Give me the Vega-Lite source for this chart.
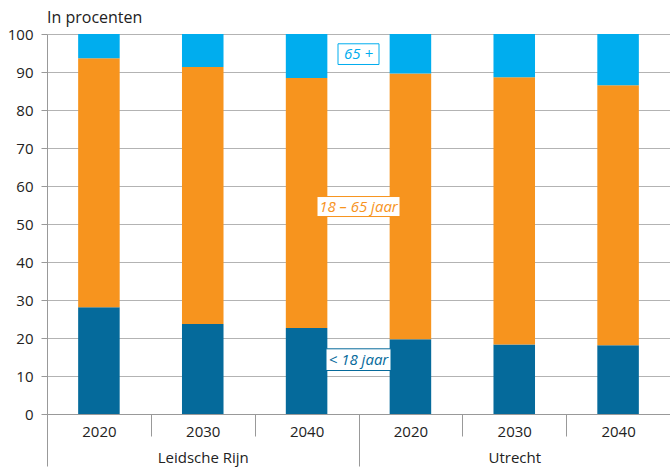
{
  "$schema": "https://vega.github.io/schema/vega-lite/v6.json",
  "width": 623,
  "height": 380,
  "autosize": {"type": "none"},
  "padding": {"left": 47, "top": 34, "right": 0, "bottom": 54},
  "config": {
    "view": {"stroke": null},
    "font": "Open Sans",
    "axis": {"labelFont": "Open Sans", "labelColor": "#222222", "domainColor": "#999999", "tickColor": "#999999"},
    "axisY": {"values": [0, 10, 20, 30, 40, 50, 60, 70, 80, 90, 100], "tickSize": 6, "labelPadding": 8, "grid": true, "gridColor": "#b3b3b3", "labelFontSize": 15, "title": null}
  },
  "title": {"text": "In procenten", "anchor": "start", "frame": "group", "fontSize": 16, "fontWeight": "normal", "font": "Open Sans", "color": "#222222", "offset": 1},
  "datasets": {
    "bars": [
      {"group": "Leidsche Rijn", "year": "2020", "age": "< 18 jaar", "value": 28.1},
      {"group": "Leidsche Rijn", "year": "2020", "age": "18 – 65 jaar", "value": 65.5},
      {"group": "Leidsche Rijn", "year": "2020", "age": "65 +", "value": 6.4},
      {"group": "Leidsche Rijn", "year": "2030", "age": "< 18 jaar", "value": 23.7},
      {"group": "Leidsche Rijn", "year": "2030", "age": "18 – 65 jaar", "value": 67.6},
      {"group": "Leidsche Rijn", "year": "2030", "age": "65 +", "value": 8.7},
      {"group": "Leidsche Rijn", "year": "2040", "age": "< 18 jaar", "value": 22.6},
      {"group": "Leidsche Rijn", "year": "2040", "age": "18 – 65 jaar", "value": 65.8},
      {"group": "Leidsche Rijn", "year": "2040", "age": "65 +", "value": 11.6},
      {"group": "Utrecht", "year": "2020", "age": "< 18 jaar", "value": 19.7},
      {"group": "Utrecht", "year": "2020", "age": "18 – 65 jaar", "value": 69.9},
      {"group": "Utrecht", "year": "2020", "age": "65 +", "value": 10.4},
      {"group": "Utrecht", "year": "2030", "age": "< 18 jaar", "value": 18.3},
      {"group": "Utrecht", "year": "2030", "age": "18 – 65 jaar", "value": 70.3},
      {"group": "Utrecht", "year": "2030", "age": "65 +", "value": 11.4},
      {"group": "Utrecht", "year": "2040", "age": "< 18 jaar", "value": 18.1},
      {"group": "Utrecht", "year": "2040", "age": "18 – 65 jaar", "value": 68.4},
      {"group": "Utrecht", "year": "2040", "age": "65 +", "value": 13.5}
    ],
    "notes": [
      {"group": "Utrecht", "age": "65 +", "pos": 94.7},
      {"group": "Utrecht", "age": "18 – 65 jaar", "pos": 54.6},
      {"group": "Utrecht", "age": "< 18 jaar", "pos": 14.3}
    ]
  },
  "layer": [
    {
      "data": {"name": "bars"},
      "transform": [
        {"calculate": "datum.group + ' ' + datum.year", "as": "key"},
        {"calculate": "indexof(['< 18 jaar', '18 – 65 jaar', '65 +'], datum.age)", "as": "ord"}
      ],
      "mark": {"type": "bar", "width": {"band": 0.4}},
      "encoding": {
        "x": {
          "field": "key", "type": "nominal", "sort": null,
          "scale": {"paddingInner": 0, "paddingOuter": 0},
          "axis": {"orient": "bottom", "title": null, "labelExpr": "slice(datum.label, -4)", "labelAngle": 0, "tickBand": "extent", "tickSize": 22, "labelPadding": -12, "labelFontSize": 15, "grid": false}
        },
        "y": {
          "field": "value", "type": "quantitative", "stack": "zero",
          "scale": {"domain": [0, 100], "nice": false},
          "title": null
        },
        "color": {
          "field": "age", "type": "nominal",
          "scale": {"domain": ["< 18 jaar", "18 – 65 jaar", "65 +"], "range": ["#056A9B", "#F7941E", "#00ADEE"]},
          "legend": null
        },
        "order": {"field": "ord", "type": "quantitative"}
      }
    },
    {
      "layer": [
        {
          "data": {"name": "bars"},
          "mark": {"type": "point", "opacity": 0},
          "encoding": {
            "x": {
              "field": "group", "type": "nominal",
              "scale": {"domain": ["Leidsche Rijn", "Utrecht"], "paddingInner": 0, "paddingOuter": 0},
              "axis": {"orient": "bottom", "title": null, "labelAngle": 0, "tickBand": "extent", "tickSize": 52, "labelPadding": -16, "labelFontSize": 15, "domain": false, "grid": false}
            },
            "y": {"field": "value", "type": "quantitative", "stack": null, "title": null}
          }
        },
        {
          "data": {"name": "notes"},
          "transform": [{"filter": "datum.age === '65 +'"}],
          "mark": {"type": "point", "shape": "M-1,-0.505H1V0.505H-1Z", "size": 1681, "filled": false, "fill": "white", "strokeWidth": 1, "opacity": 1},
          "encoding": {
            "x": {"field": "group", "type": "nominal", "bandPosition": 0, "title": null},
            "y": {"field": "pos", "type": "quantitative", "title": null},
            "color": {"field": "age", "type": "nominal"}
          }
        },
        {
          "data": {"name": "notes"},
          "transform": [{"filter": "datum.age === '18 – 65 jaar'"}],
          "mark": {"type": "point", "shape": "M-1,-0.241H1V0.241H-1Z", "size": 6889, "filled": false, "fill": "white", "strokeWidth": 1, "opacity": 1},
          "encoding": {
            "x": {"field": "group", "type": "nominal", "bandPosition": 0, "title": null},
            "y": {"field": "pos", "type": "quantitative", "title": null},
            "color": {"field": "age", "type": "nominal"}
          }
        },
        {
          "data": {"name": "notes"},
          "transform": [{"filter": "datum.age === '< 18 jaar'"}],
          "mark": {"type": "point", "shape": "M-1,-0.334H1V0.334H-1Z", "size": 4225, "filled": false, "fill": "white", "strokeWidth": 1, "opacity": 1},
          "encoding": {
            "x": {"field": "group", "type": "nominal", "bandPosition": 0, "title": null},
            "y": {"field": "pos", "type": "quantitative", "title": null},
            "color": {"field": "age", "type": "nominal"}
          }
        },
        {
          "data": {"name": "notes"},
          "mark": {"type": "text", "fontStyle": "italic", "fontSize": 15, "font": "Open Sans", "align": "center", "baseline": "middle"},
          "encoding": {
            "x": {"field": "group", "type": "nominal", "bandPosition": 0, "title": null},
            "y": {"field": "pos", "type": "quantitative", "title": null, "stack": null},
            "text": {"field": "age", "type": "nominal"},
            "color": {"field": "age", "type": "nominal"}
          }
        }
      ]
    }
  ],
  "resolve": {"scale": {"x": "independent"}}
}
